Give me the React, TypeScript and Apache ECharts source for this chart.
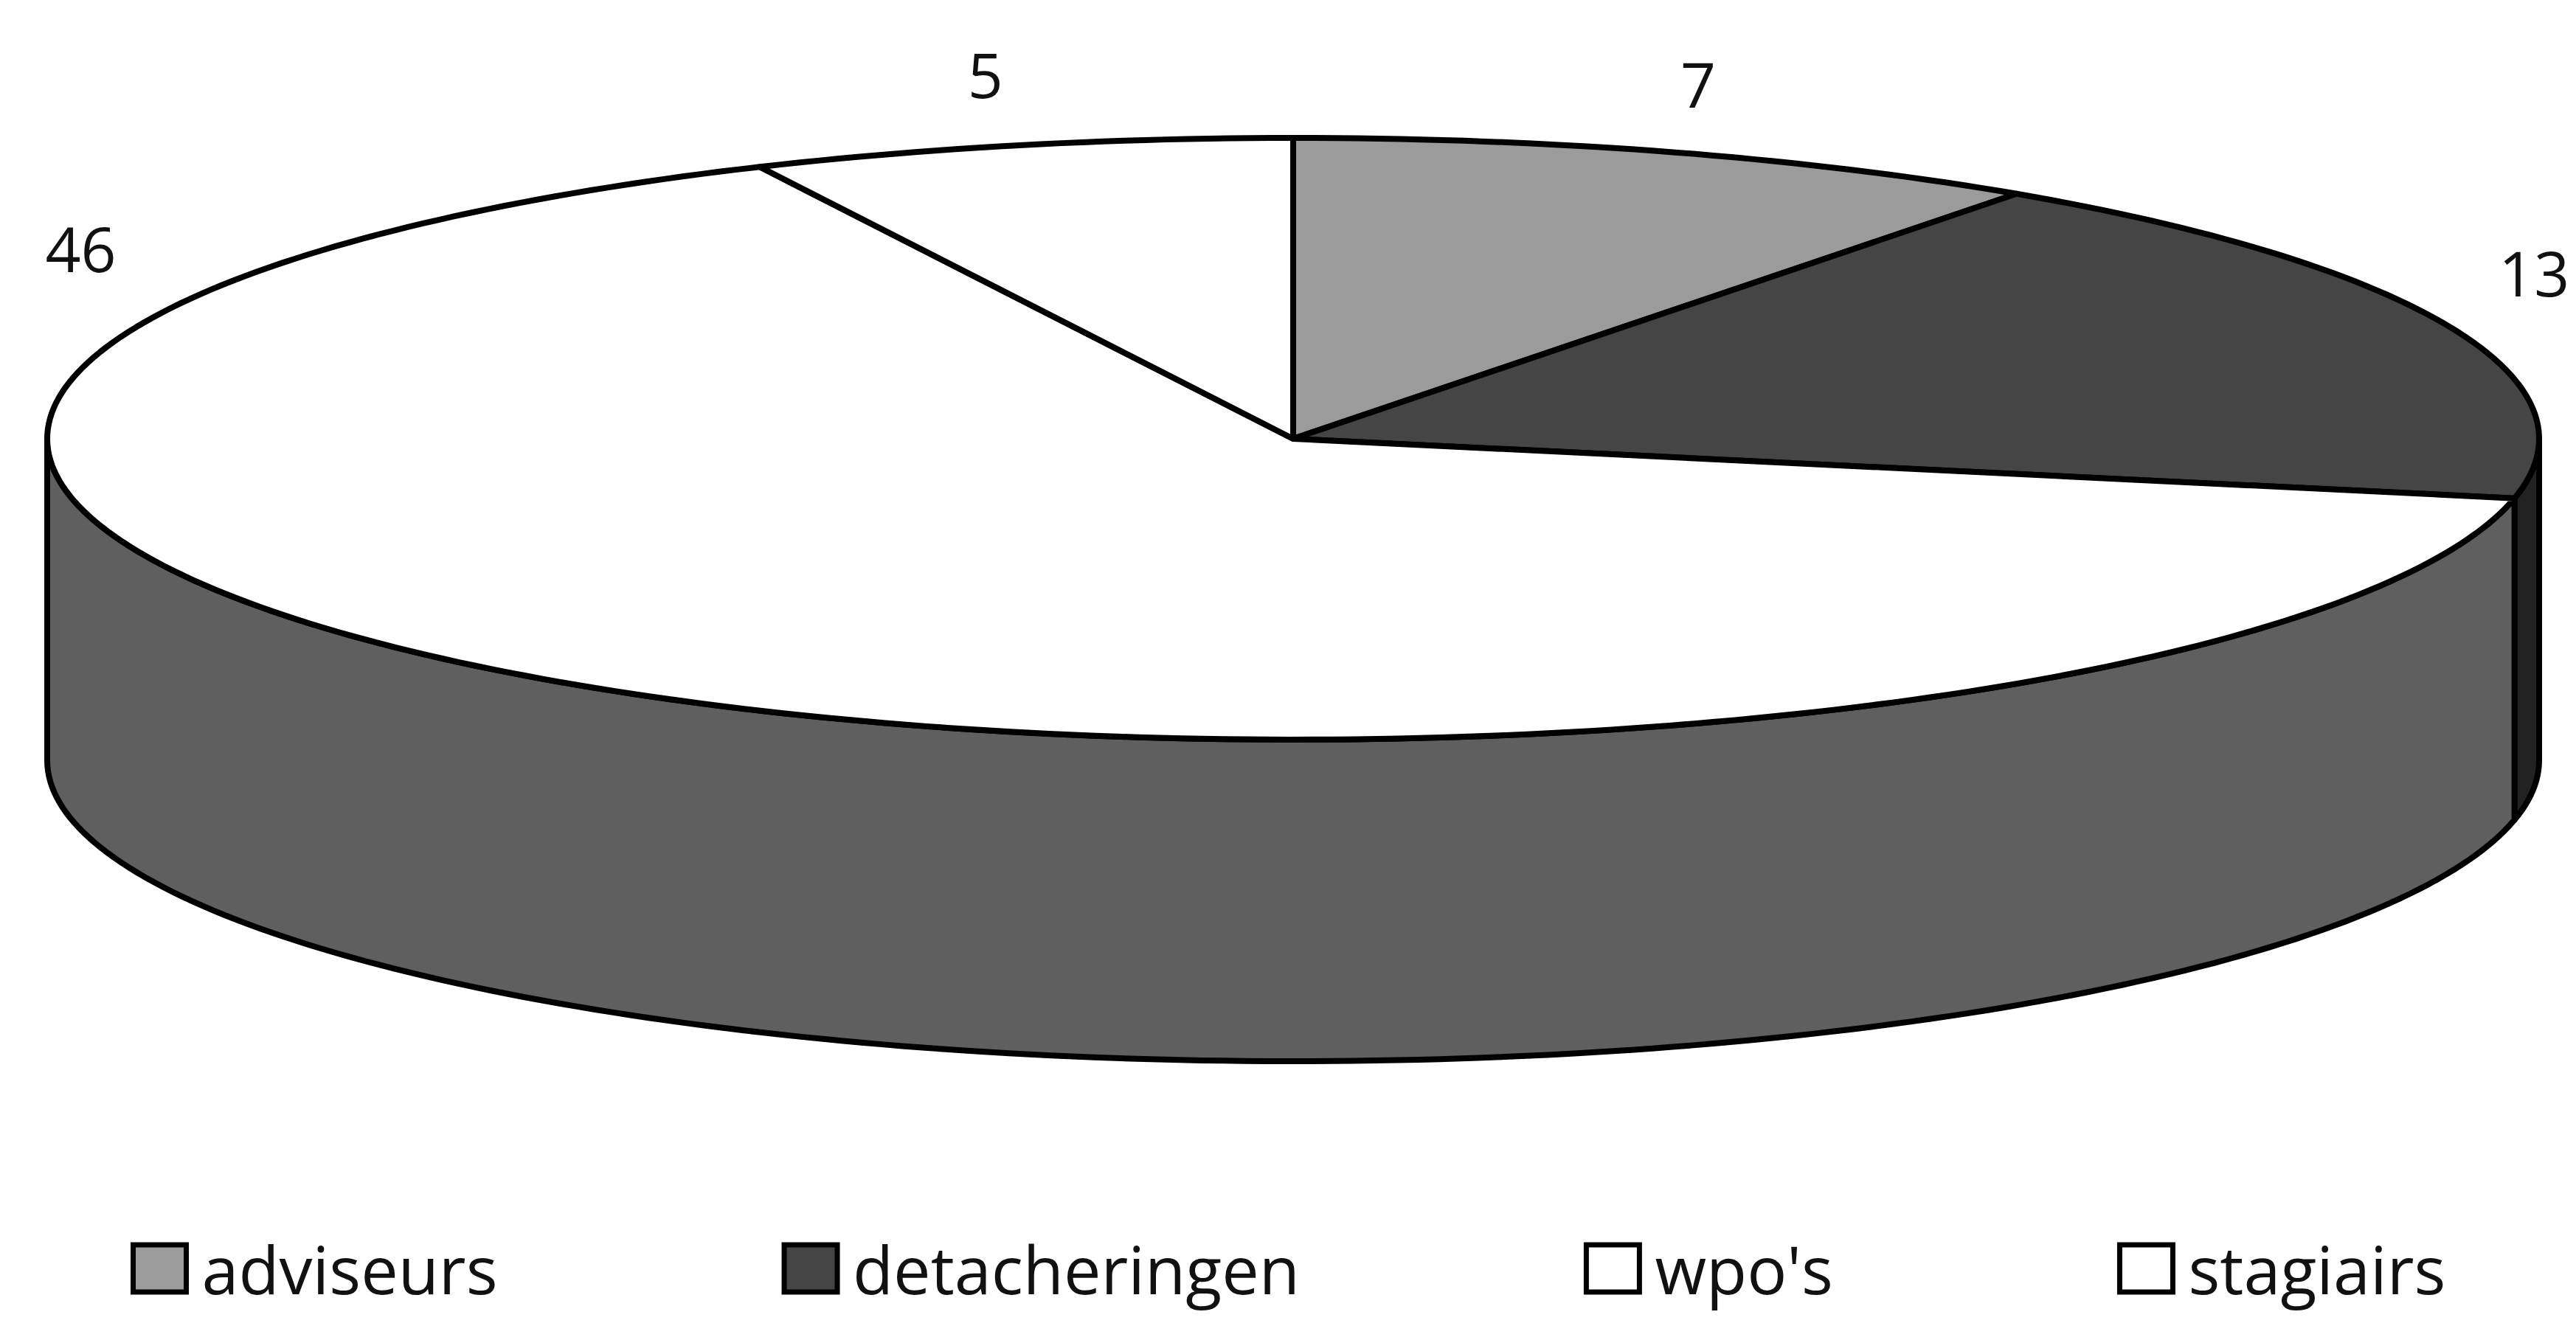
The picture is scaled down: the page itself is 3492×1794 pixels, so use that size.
import React, { useEffect, useRef } from "react";
import * as echarts from "echarts";

const categories = ["adviseurs", "detacheringen", "wpo's", "stagiairs"];
const values = [7, 13, 46, 5];
const topColors = ["#9b9b9b", "#454545", "#ffffff", "#ffffff"];
const wallColors = ["#9b9b9b", "#222222", "#5f5f5f", "#ffffff"];
// label anchors in the pie's own axis units (1 = one radius)
const labelAnchors = [
  [0.325, 1.18],
  [0.996, 0.552],
  [-0.973, 0.634],
  [-0.247, 1.213],
];

const DEPTH = 1.069;
const FONT = '"Open Sans", sans-serif';
const total = values.reduce((a, b) => a + b, 0);

function buildSeries() {
  let cum = 0;
  return categories.map((name, i) => {
    const start = cum;
    cum += values[i];
    const end = cum;
    return {
      type: "custom",
      name,
      coordinateSystem: "cartesian2d",
      silent: true,
      clip: false,
      data: [[start, end, values[i]]],
      itemStyle: { color: topColors[i] },
      renderItem: (_p: any, api: any) => {
        const a0 = (api.value(0) / total) * Math.PI * 2;
        const a1 = (api.value(1) / total) * Math.PI * 2;
        const pt = (t: number, drop = 0) => api.coord([Math.sin(t), Math.cos(t) - drop]);
        const arc = (s: number, e: number, drop = 0) => {
          const n = Math.max(2, Math.ceil(((e - s) / (Math.PI * 2)) * 360));
          const out: number[][] = [];
          for (let k = 0; k <= n; k++) out.push(pt(s + ((e - s) * k) / n, drop));
          return out;
        };
        const children: any[] = [];
        const ws = Math.max(a0, Math.PI / 2);
        const we = Math.min(a1, (Math.PI * 3) / 2);
        if (we > ws) {
          children.push({
            type: "polygon",
            shape: { points: [...arc(ws, we), ...arc(ws, we, DEPTH).reverse()] },
            style: { fill: wallColors[i], stroke: "#000", lineWidth: 8, lineJoin: "round" },
          });
        }
        children.push({
          type: "polygon",
          shape: { points: [api.coord([0, 0]), ...arc(a0, a1)] },
          style: { fill: topColors[i], stroke: "#000", lineWidth: 8, lineJoin: "round" },
        });
        const lp = api.coord(labelAnchors[i]);
        children.push({
          type: "text",
          style: {
            text: String(api.value(2)),
            x: lp[0],
            y: lp[1],
            fill: "#111",
            fontSize: 84,
            fontFamily: FONT,
            align: "center",
            verticalAlign: "middle",
          },
        });
        return { type: "group", children };
      },
    };
  });
}

export default function App() {
  const ref = useRef<HTMLDivElement>(null);
  useEffect(() => {
    document.body.style.margin = "0";
    const chart = echarts.init(ref.current!, undefined, { renderer: "svg" });
    chart.setOption({
      animation: false,
      backgroundColor: "#ffffff",
      grid: { left: 64, top: 187, width: 3378, height: 1252, containLabel: false },
      xAxis: { type: "value", min: -1, max: 1, show: false },
      yAxis: { type: "value", min: -1 - DEPTH, max: 1, show: false },
      legend: {
        left: 172,
        top: 1670,
        orient: "horizontal",
        itemWidth: 72,
        itemHeight: 64,
        itemGap: 385,
        selectedMode: false,
        textStyle: { fontSize: 90, fontFamily: FONT, color: "#111", padding: [0, 0, 0, 16] },
        data: categories.map((name, i) => ({
          name,
          icon: "rect",
          itemStyle: { color: topColors[i], borderColor: "#000", borderWidth: 7 },
        })),
      },
      series: buildSeries(),
    });
    return () => chart.dispose();
  }, []);
  return <div ref={ref} style={{ width: 3492, height: 1794 }} />;
}
